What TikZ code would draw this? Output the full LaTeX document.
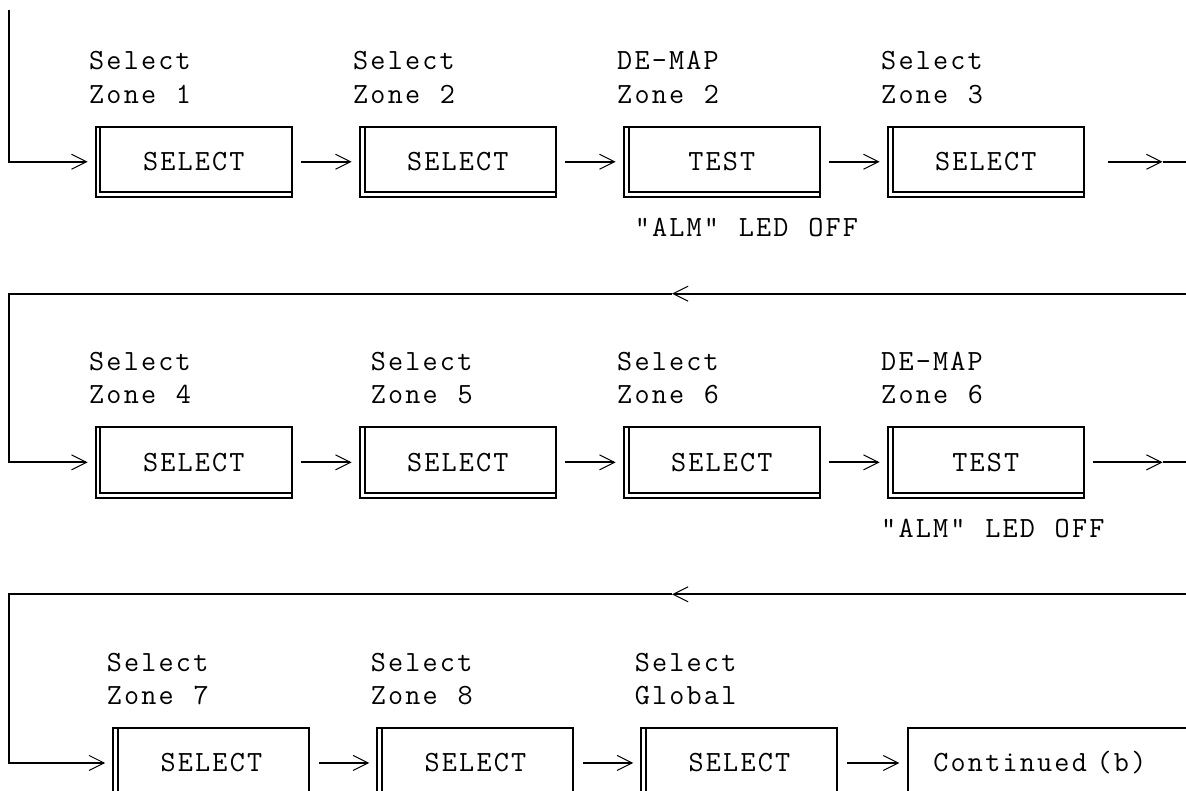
\documentclass[tikz,border=0pt]{standalone}
\usepackage{fontspec}
\setmonofont[LetterSpace=7.5,WordSpace={1.143,0,0}]{Latin Modern Mono}
\usepackage{tikz}
\usetikzlibrary{arrows.meta}
\newcommand{\chartfont}{\ttfamily\fontsize{14.66pt}{16.7pt}\selectfont}
\tikzstyle{chart}=[line width=1pt, x=8.8pt, y=-16.7pt, font=\chartfont]
\tikzstyle{selbox}=[rectangle, draw, minimum width=98pt, minimum height=35.15pt, inner sep=0pt, path picture={\draw[line width=1pt] ([xshift=2.35pt]path picture bounding box.north west) |- ([yshift=2.35pt]path picture bounding box.south east);}]
\tikzstyle{contbox}=[rectangle, draw, anchor=west, minimum height=35.15pt, text width=190pt, align=left, inner xsep=12.9pt, inner ysep=0pt]
\tikzstyle{lbl}=[anchor=base west, align=left, inner sep=0pt]
\tikzstyle{flow}=[-{Straight Barb[length=7.5pt, width=7.5pt, line width=0.5pt]}, shorten >=3.6pt]
\tikzstyle{link}=[flow, shorten <=4.3pt]

\begin{document}
\begin{tikzpicture}[chart]
\useasboundingbox (-0.5114,-0.7934) rectangle (66.875,22.889);
\clip (-0.5114,-0.7934) rectangle (66.875,22.889);
\node[selbox] (S1) at (10.5,4.05) {SELECT};
\node[selbox] (S2) at (25.5,4.05) {SELECT};
\node[selbox] (T2) at (40.5,4.05) {TEST};
\node[selbox] (S3) at (55.5,4.05) {SELECT};
\node[lbl] (L1) at (4.5,2.3) {Select\\Zone 1};
\node[lbl] (L2) at (19.5,2.3) {Select\\Zone 2};
\node[lbl] (L3) at (34.5,2.3) {DE-MAP\\Zone 2};
\node[lbl] (L4) at (49.5,2.3) {Select\\Zone 3};
\node[lbl] (A1) at (35.5,6.3) {"ALM" LED OFF};
\coordinate (T0) at (0,-0.5);
\coordinate (E4) at (65.54,4.05);
\coordinate (R4) at (67.5,4.05);
\draw[flow] (T0) |- (S1);
\draw[link] (S1) -- (S2);\draw[link] (S2) -- (T2);\draw[link] (T2) -- (S3);
\draw[flow, shorten >=0pt, shorten <=11.7pt] (S3) -- (E4);
\draw (E4) -- (R4);

\node[selbox] (S4) at (10.5,13.05) {SELECT};
\node[selbox] (S5) at (25.5,13.05) {SELECT};
\node[selbox] (S6) at (40.5,13.05) {SELECT};
\node[selbox] (T6) at (55.5,13.05) {TEST};
\node[lbl] (L5) at (4.5,11.3) {Select\\Zone 4};
\node[lbl] (L6) at (20.5,11.3) {Select\\Zone 5};
\node[lbl] (L7) at (34.5,11.3) {Select\\Zone 6};
\node[lbl] (L8) at (49.5,11.3) {DE-MAP\\Zone 6};
\node[lbl] (A2) at (49.5,15.3) {"ALM" LED OFF};
\coordinate (R8) at (67.5,8);
\coordinate (M8) at (37.67,8);
\coordinate (C8) at (0,8);
\coordinate (E13) at (65.54,13.05);
\coordinate (R13) at (67.5,13.05);
\draw[flow, shorten >=0pt] (R8) -- (M8);
\draw[flow] (M8) -- (C8) |- (S4);
\draw[link] (S4) -- (S5);\draw[link] (S5) -- (S6);\draw[link] (S6) -- (T6);
\draw[link, shorten >=0pt] (T6) -- (E13);
\draw (E13) -- (R13);

\node[selbox] (S7) at (11.5,22.05) {SELECT};
\node[selbox] (S8) at (26.5,22.05) {SELECT};
\node[selbox] (SG) at (41.5,22.05) {SELECT};
\node[contbox] (CB) at (51,22.05) {Continued (b)};
\node[lbl] (L9) at (5.5,20.3) {Select\\Zone 7};
\node[lbl] (L10) at (20.5,20.3) {Select\\Zone 8};
\node[lbl] (L11) at (35.5,20.3) {Select\\Global};
\coordinate (R17) at (67.5,17);
\coordinate (M17) at (37.67,17);
\coordinate (C17) at (0,17);
\draw[flow, shorten >=0pt] (R17) -- (M17);
\draw[flow] (M17) -- (C17) |- (S7);
\draw[link] (S7) -- (S8);\draw[link] (S8) -- (SG);\draw[link] (SG) -- (CB);
\end{tikzpicture}
\end{document}
